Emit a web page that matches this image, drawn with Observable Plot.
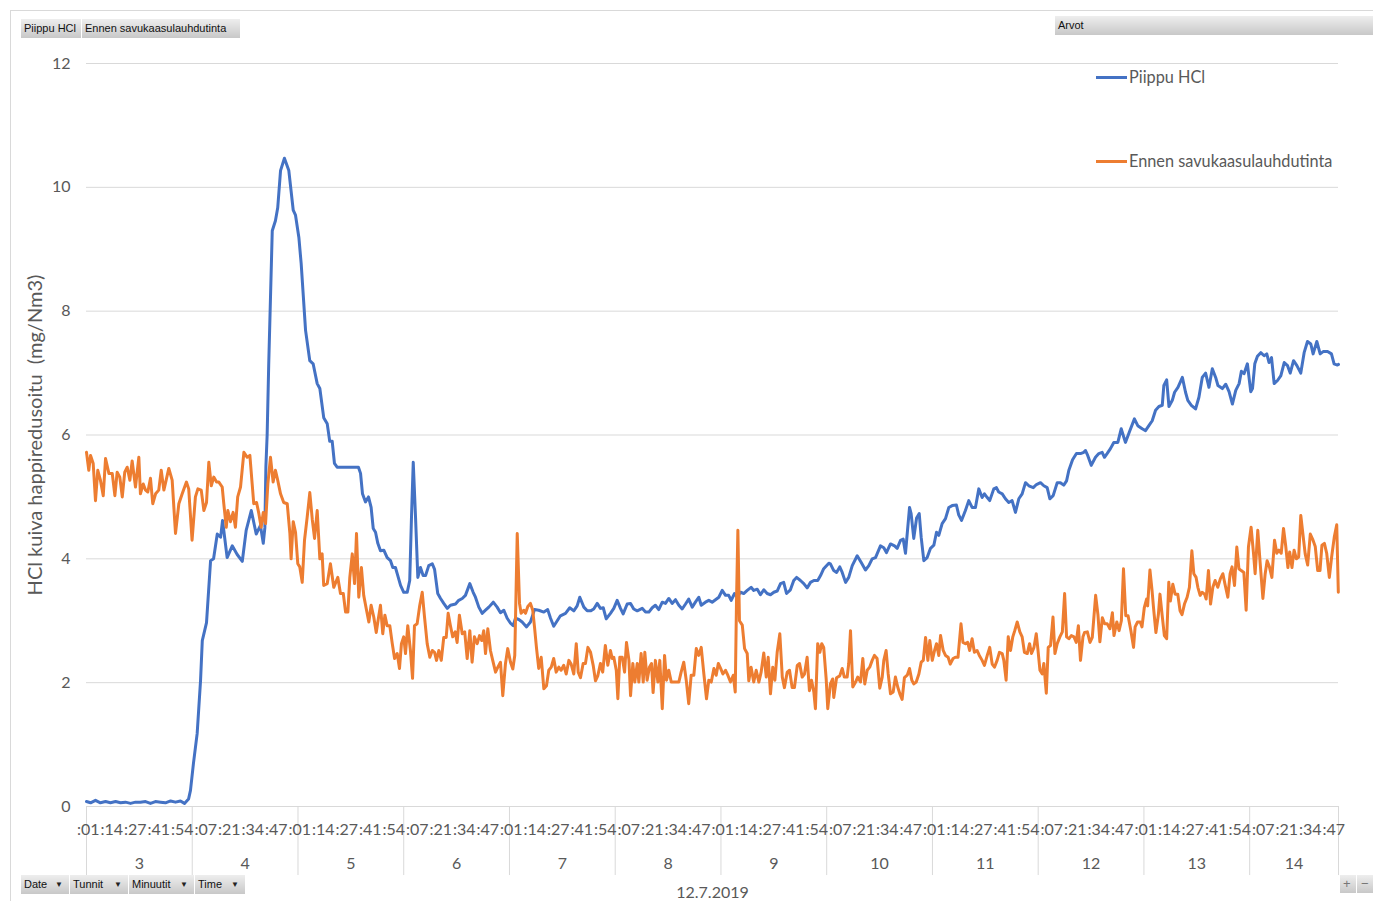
<!DOCTYPE html>
<html><head><meta charset="utf-8">
<script src="https://cdn.jsdelivr.net/npm/d3@7"></script>
<script src="https://cdn.jsdelivr.net/npm/@observablehq/plot@0.6"></script>
<style>
body{margin:0;background:#fff;}
#wrap{position:relative;width:1373px;height:901px;overflow:hidden;font-family:Lato,sans-serif;background:#fff;}
#wrap svg{position:absolute;left:0;top:0;}
.btn{position:absolute;height:19px;line-height:19px;font-size:11px;font-family:"Liberation Sans",Arial,sans-serif;color:#111;background:linear-gradient(#eeeeee,#c8c8c8);box-sizing:border-box;padding-left:3px;white-space:nowrap;}
.arr{position:absolute;top:0;font-size:8px;color:#222;}
.leg{position:absolute;height:20px;line-height:20px;font-size:16.3px;color:#595959;font-family:Lato,sans-serif;white-space:nowrap;}
.legline{position:absolute;height:3px;width:31px;}
.frame{position:absolute;background:#d9d9d9;}
</style>
</head><body>
<div id="wrap"></div>
<script>
// ---- data (minutes after 03:00, value in mg/Nm3) ----
const seriesNames = ["Piippu HCl", "Ennen savukaasulauhdutinta"];
const seriesColors = ["#4472C4", "#ED7D31"];
const yTitle = "HCl kuiva happiredusoitu  (mg/Nm3)";
const yTicks = [0, 2, 4, 6, 8, 10, 12];
const hours = [3, 4, 5, 6, 7, 8, 9, 10, 11, 12, 13, 14];
const dateLabel = "12.7.2019";
const xEnd = 710.4; // last category edge, minutes after 03:00 (≈14:50)
const minuteTicks = [
 "3:01:00","3:14:20","3:27:40","3:41:00","3:54:20","4:07:40","4:21:00","4:34:20","4:47:40",
 "5:01:00","5:14:20","5:27:40","5:41:00","5:54:20","6:07:40","6:21:00","6:34:20","6:47:40",
 "7:01:00","7:14:20","7:27:40","7:41:00","7:54:20","8:07:40","8:21:00","8:34:20","8:47:40",
 "9:01:00","9:14:20","9:27:40","9:41:00","9:54:20","10:07:40","10:21:00","10:34:20","10:47:40",
 "11:01:00","11:14:20","11:27:40","11:41:00","11:54:20","12:07:40","12:21:00","12:34:20","12:47:40",
 "13:01:00","13:14:20","13:27:40","13:41:00","13:54:20","14:07:40","14:21:00","14:34:20","14:47:40"
];

const piippu = [[0,0.08],[2.3,0.06],[5.1,0.1],[7.9,0.06],[10.8,0.08],[13.6,0.06],[16.5,0.08],[19.3,0.06],[22.1,0.07],[25.0,0.05],[27.8,0.07],[30.6,0.07],[33.5,0.08],[36.3,0.05],[39.1,0.08],[42.0,0.07],[44.8,0.06],[47.7,0.09],[50.5,0.07],[53.3,0.09],[55.6,0.05],[57.9,0.12],[59.0,0.26],[60.7,0.7],[62.8,1.18],[64.7,2.03],[65.7,2.68],[68.1,2.97],[70.4,3.97],[72.1,4.0],[74.2,4.4],[76.1,4.35],[77.2,4.62],[79.8,4.02],[82.7,4.21],[85.5,4.07],[88.4,3.96],[90.6,4.46],[93.5,4.78],[96.3,4.4],[98.7,4.54],[100.3,4.25],[101.2,4.5],[101.8,5.5],[102.5,6.0],[103.4,7.15],[105.4,9.3],[107.2,9.46],[108.5,9.67],[110.1,10.27],[112.3,10.47],[114.8,10.27],[117.3,9.63],[118.6,9.55],[120.5,9.19],[121.8,8.77],[124.3,7.69],[126.7,7.2],[128.6,7.15],[130.9,6.83],[132.4,6.75],[134.6,6.28],[136.6,6.18],[138.0,5.9],[139.4,5.9],[140.7,5.54],[142.2,5.48],[154.3,5.48],[155.5,5.38],[156.6,5.05],[158.3,4.92],[160.0,5.0],[161.5,4.83],[162.7,4.49],[164.0,4.43],[165.3,4.25],[166.8,4.13],[168.7,4.14],[170.6,4.02],[172.5,3.97],[173.8,3.86],[175.3,3.86],[176.3,3.76],[178.2,3.57],[180.0,3.46],[182.0,3.46],[183.4,3.65],[184.4,4.67],[185.4,5.56],[186.7,4.67],[188.0,3.7],[189.5,3.86],[191.0,3.73],[192.4,3.73],[194.2,3.89],[196.2,3.92],[197.5,3.83],[199.3,3.44],[200.9,3.36],[202.7,3.28],[204.7,3.2],[206.5,3.25],[209.4,3.27],[211.2,3.33],[213.2,3.36],[215.0,3.41],[217.5,3.6],[219.4,3.46],[220.7,3.38],[222.6,3.22],[224.5,3.12],[226.4,3.17],[228.3,3.22],[230.8,3.3],[233.0,3.22],[234.9,3.13],[236.8,3.17],[238.7,3.04],[240.6,2.96],[242.1,2.92],[243.4,3.04],[245.3,3.02],[247.2,2.98],[249.7,2.9],[251.9,2.98],[254.2,3.18],[256.6,3.17],[259.5,3.14],[261.7,3.18],[263.3,3.04],[265.1,2.91],[267.1,3.0],[268.9,3.08],[271.8,3.12],[274.2,3.21],[276.5,3.16],[278.4,3.24],[279.9,3.38],[282.2,3.22],[284.1,3.16],[286.0,3.16],[287.8,3.19],[289.8,3.28],[291.6,3.2],[293.2,3.21],[294.9,3.03],[297.3,3.12],[299.2,3.2],[301.1,3.33],[303.0,3.2],[304.5,3.11],[306.8,3.27],[308.7,3.28],[310.5,3.19],[312.5,3.16],[315.3,3.2],[317.2,3.14],[319.1,3.14],[321.0,3.21],[322.8,3.25],[324.7,3.18],[326.7,3.3],[328.5,3.28],[330.4,3.36],[332.3,3.28],[334.2,3.34],[336.1,3.25],[338.0,3.19],[339.9,3.27],[341.7,3.35],[343.7,3.22],[345.5,3.3],[347.4,3.38],[348.8,3.25],[351.2,3.3],[353.1,3.33],[355.0,3.3],[356.9,3.34],[358.8,3.38],[360.7,3.49],[362.6,3.41],[364.4,3.41],[365.8,3.33],[367.7,3.44],[369.2,3.38],[371.1,3.46],[372.9,3.44],[374.9,3.49],[377.1,3.54],[378.6,3.49],[380.6,3.51],[382.4,3.42],[384.3,3.5],[386.2,3.44],[388.1,3.42],[390.0,3.46],[391.9,3.48],[393.8,3.6],[395.6,3.62],[397.2,3.44],[399.4,3.5],[401.3,3.65],[402.9,3.7],[405.1,3.65],[407.0,3.6],[408.9,3.53],[410.8,3.62],[412.7,3.65],[414.9,3.65],[416.5,3.73],[418.3,3.84],[421.2,3.93],[422.1,3.92],[424.0,3.81],[425.6,3.78],[427.4,3.87],[428.8,3.78],[430.7,3.62],[432.5,3.7],[434.5,3.89],[437.3,4.05],[439.6,3.94],[442.0,3.82],[443.9,3.89],[445.8,4.0],[447.7,4.02],[450.5,4.21],[452.4,4.18],[453.9,4.1],[456.2,4.24],[458.5,4.21],[460.0,4.17],[461.9,4.3],[463.4,4.32],[464.7,4.09],[467.0,4.83],[467.9,4.73],[469.4,4.33],[471.0,4.66],[472.5,4.73],[473.6,4.35],[475.1,3.97],[477.0,4.02],[478.9,4.17],[480.8,4.22],[482.3,4.43],[483.6,4.38],[485.5,4.57],[487.4,4.65],[489.3,4.83],[491.2,4.86],[493.6,4.87],[494.9,4.71],[496.5,4.62],[498.7,4.78],[500.6,4.94],[502.5,4.83],[504.4,4.83],[506.3,5.13],[508.2,4.99],[509.5,5.05],[511.1,4.99],[512.5,4.94],[514.8,5.13],[516.3,5.15],[517.6,5.08],[519.6,5.05],[521.4,4.97],[523.3,4.91],[525.2,4.94],[527.1,4.75],[529.0,4.97],[530.9,5.05],[532.8,5.23],[534.7,5.18],[537.2,5.15],[539.0,5.2],[541.3,5.23],[543.2,5.18],[545.1,5.15],[546.6,4.97],[548.5,5.02],[550.8,5.23],[552.6,5.23],[554.5,5.19],[556.1,5.26],[557.4,5.43],[559.5,5.6],[561.7,5.7],[564.0,5.7],[565.9,5.72],[566.8,5.75],[568.1,5.67],[570.1,5.51],[572.5,5.64],[574.4,5.7],[576.3,5.72],[577.6,5.64],[579.1,5.7],[581.0,5.78],[582.9,5.88],[585.2,5.88],[587.1,6.1],[589.5,5.88],[592.0,6.07],[594.6,6.26],[596.5,6.15],[599.0,6.1],[600.9,6.07],[602.8,6.15],[604.7,6.23],[606.6,6.4],[608.5,6.46],[610.4,6.48],[611.3,6.8],[612.9,6.89],[614.2,6.46],[616.1,6.56],[617.4,6.69],[619.3,6.77],[621.8,6.93],[623.6,6.69],[624.9,6.56],[626.9,6.48],[629.3,6.42],[631.2,6.61],[633.1,6.93],[635.0,7.0],[636.9,6.77],[638.8,7.07],[640.7,6.93],[642.0,6.8],[644.5,6.75],[646.4,6.82],[648.3,6.7],[650.2,6.5],[652.1,6.72],[654.0,6.83],[655.3,7.03],[656.8,6.99],[658.7,7.15],[660.6,6.7],[661.6,6.75],[662.9,7.15],[664.4,7.27],[666.3,7.33],[668.2,7.28],[669.7,7.31],[671.0,7.17],[672.4,7.25],[673.9,6.83],[675.8,6.88],[677.7,6.96],[679.6,7.17],[681.5,7.12],[683.0,7.0],[684.9,7.2],[686.8,7.12],[689.0,7.0],[690.9,7.33],[692.8,7.51],[694.7,7.47],[696.0,7.31],[698.1,7.51],[700.0,7.31],[701.9,7.35],[704.2,7.35],[706.4,7.31],[707.9,7.15],[709.8,7.13],[710.4,7.14]];

const ennen = [[0,5.72],[1.3,5.43],[2.3,5.67],[3.8,5.54],[5.1,4.94],[6.4,5.43],[7.9,5.27],[9.5,5.02],[10.8,5.62],[12.7,5.38],[14.6,5.38],[16.1,5.02],[17.4,5.4],[18.9,5.32],[20.3,5.0],[21.7,5.4],[23.1,5.48],[24.6,5.27],[25.9,5.58],[27.8,5.16],[29.7,5.64],[30.6,5.05],[32.2,5.21],[33.5,5.11],[34.8,5.08],[36.3,5.3],[37.6,4.89],[39.2,5.05],[41.0,5.11],[42.4,5.43],[43.9,5.11],[45.2,5.27],[46.7,5.46],[48.6,5.27],[50.5,4.41],[52.4,4.89],[54.3,5.05],[56.7,5.24],[58.0,5.13],[59.9,4.3],[61.8,5.0],[63.2,5.13],[65.1,5.11],[66.6,4.78],[68.1,4.91],[69.4,5.56],[70.8,5.18],[72.2,5.32],[73.8,5.24],[75.1,5.24],[77.0,5.16],[77.9,4.89],[79.3,4.51],[80.2,4.78],[81.7,4.6],[83.2,4.75],[84.5,4.51],[85.8,5.0],[87.4,5.16],[89.3,5.72],[91.2,5.64],[92.7,5.67],[94.0,5.21],[94.9,4.89],[96.5,4.91],[97.8,4.73],[99.1,4.51],[100.3,4.75],[101.6,4.57],[102.9,5.21],[104.4,5.64],[105.9,5.24],[107.2,5.43],[108.5,5.27],[110.1,5.05],[111.9,4.91],[113.9,4.89],[115.4,4.41],[116.1,4.0],[117.3,4.6],[118.6,4.43],[119.9,3.92],[121.0,3.87],[122.4,3.62],[123.7,4.3],[125.2,4.67],[126.7,5.07],[128.1,4.64],[129.4,4.33],[130.9,4.78],[132.4,4.0],[133.7,4.08],[134.6,3.57],[136.6,3.6],[138.4,3.92],[140.3,3.54],[142.6,3.7],[144.1,3.44],[145.7,3.44],[147.0,3.14],[148.3,3.14],[149.4,3.7],[150.8,4.08],[152.1,3.6],[153.2,4.41],[154.5,3.38],[156.0,3.86],[157.3,3.41],[158.9,3.17],[160.2,2.98],[161.5,3.25],[163.0,3.06],[164.4,2.81],[165.3,2.98],[166.8,3.25],[168.1,2.79],[169.3,3.09],[170.6,2.92],[172.1,2.92],[173.5,2.63],[174.8,2.39],[176.3,2.47],[177.6,2.23],[178.7,2.63],[180.0,2.74],[181.0,2.47],[182.3,2.92],[183.8,2.52],[185.0,2.07],[186.1,2.92],[187.6,2.95],[189.1,3.25],[190.5,3.46],[191.8,3.06],[193.3,2.63],[194.8,2.41],[196.2,2.52],[197.5,2.49],[198.6,2.36],[199.9,2.52],[201.3,2.36],[202.7,2.73],[204.1,2.73],[205.2,3.12],[206.5,2.92],[207.8,2.74],[209.2,2.82],[210.3,2.65],[211.6,3.09],[213.2,2.79],[214.6,2.82],[216.0,2.39],[217.5,2.84],[218.8,2.33],[220.1,2.74],[221.7,2.63],[223.0,2.76],[224.3,2.68],[225.4,2.84],[226.4,2.47],[227.7,2.87],[229.2,2.52],[230.5,2.36],[232.1,2.17],[233.4,2.25],[234.9,2.33],[236.2,1.79],[237.7,2.3],[239.0,2.55],[240.6,2.33],[241.9,2.22],[243.0,2.44],[244.4,4.41],[245.7,3.28],[246.6,3.12],[248.1,3.17],[249.1,3.12],[250.4,3.23],[251.9,3.28],[253.2,3.17],[254.2,2.9],[255.3,2.57],[256.6,2.23],[258.0,2.41],[259.5,1.9],[261.0,1.95],[262.3,2.2],[263.7,2.25],[265.1,2.39],[266.5,2.17],[268.0,2.25],[269.3,2.2],[270.8,2.28],[272.2,2.14],[273.7,2.36],[275.0,2.3],[276.5,2.14],[277.9,2.63],[279.0,2.17],[280.3,2.08],[281.8,2.31],[283.1,2.31],[284.5,2.57],[286.0,2.49],[287.5,2.28],[288.8,2.03],[290.1,2.11],[291.6,2.31],[292.9,2.17],[294.4,2.6],[295.8,2.28],[297.3,2.52],[298.3,2.39],[299.2,2.41],[300.6,2.2],[301.5,1.74],[302.6,2.41],[304.0,2.41],[305.3,2.17],[306.4,2.65],[307.8,2.36],[308.7,1.79],[310.0,2.31],[311.1,2.01],[312.5,2.31],[313.4,2.01],[314.7,2.47],[315.9,2.01],[316.8,2.49],[318.1,2.04],[319.4,2.25],[320.6,2.31],[321.5,1.84],[322.8,2.36],[324.2,2.01],[325.3,2.36],[326.7,1.58],[328.0,2.44],[329.1,2.04],[330.4,2.2],[331.8,2.01],[333.2,2.01],[334.8,2.01],[336.1,2.01],[337.4,2.17],[338.9,2.33],[340.3,2.04],[341.7,1.66],[343.1,2.12],[344.6,2.12],[346.0,2.55],[347.4,2.44],[348.8,2.57],[350.3,2.14],[351.8,1.74],[353.1,2.04],[354.5,2.01],[356.0,2.23],[357.3,2.12],[358.5,2.31],[359.8,2.23],[361.1,2.14],[362.6,2.2],[363.9,2.12],[365.4,2.01],[367.0,2.12],[368.1,1.85],[368.8,3.28],[369.6,4.46],[370.5,3.0],[372.1,2.93],[373.4,2.55],[374.9,2.47],[375.8,2.03],[377.1,2.25],[378.6,2.01],[380.0,2.2],[381.5,2.01],[382.8,2.17],[384.3,2.48],[385.7,2.09],[386.8,2.41],[388.1,1.82],[389.4,2.25],[390.6,2.04],[391.9,2.49],[393.4,2.79],[394.8,2.09],[396.0,1.92],[397.6,2.17],[398.9,2.2],[400.4,1.92],[401.7,1.92],[403.3,2.28],[404.6,2.31],[406.1,2.09],[407.4,2.14],[408.9,2.41],[410.2,1.87],[411.4,2.04],[412.7,1.85],[413.6,1.58],[414.9,2.63],[416.1,2.49],[417.2,2.63],[418.3,2.57],[419.7,2.06],[420.6,1.58],[422.1,1.98],[423.4,2.06],[424.0,1.76],[425.6,2.08],[427.4,2.11],[428.8,2.23],[430.0,2.09],[431.6,2.09],[432.5,2.31],[433.5,2.84],[434.8,1.93],[436.4,2.01],[437.6,2.09],[439.2,2.01],[440.5,2.39],[441.6,1.98],[443.0,2.2],[444.4,2.25],[445.8,2.36],[447.1,2.44],[448.6,2.39],[450.1,1.91],[451.5,2.09],[452.4,2.36],[453.7,2.52],[454.9,2.14],[456.2,1.82],[457.7,1.85],[459.0,2.09],[460.3,1.93],[461.5,1.82],[462.8,1.73],[464.1,2.08],[465.7,2.12],[467.0,2.23],[468.3,2.04],[469.4,1.98],[470.8,2.01],[472.3,2.14],[473.6,2.33],[474.8,2.36],[476.1,2.73],[477.4,2.36],[478.5,2.68],[479.9,2.36],[481.2,2.52],[482.3,2.63],[483.6,2.44],[484.6,2.76],[486.1,2.52],[487.4,2.44],[488.9,2.41],[490.1,2.3],[491.7,2.39],[493.0,2.41],[494.5,2.41],[496.2,2.95],[497.3,2.65],[498.7,2.63],[500.0,2.65],[501.1,2.52],[502.5,2.71],[503.8,2.49],[505.3,2.52],[506.6,2.44],[508.2,2.36],[509.5,2.28],[511.1,2.44],[512.5,2.57],[513.9,2.3],[515.2,2.25],[516.7,2.36],[518.0,2.49],[519.6,2.47],[520.5,2.36],[521.8,2.04],[523.0,2.74],[524.3,2.52],[525.6,2.74],[526.7,2.84],[528.1,2.98],[529.6,2.82],[530.9,2.74],[532.2,2.49],[533.8,2.47],[535.1,2.63],[536.2,2.47],[537.6,2.57],[538.9,2.79],[539.8,2.55],[541.0,2.2],[542.3,2.14],[543.2,2.31],[544.6,1.83],[545.7,2.57],[547.0,2.6],[548.4,3.06],[549.5,2.47],[550.8,2.63],[552.3,2.74],[553.7,2.82],[555.0,3.44],[556.1,2.74],[557.4,2.71],[558.8,2.76],[560.3,2.74],[561.6,2.65],[562.8,2.92],[564.0,2.36],[565.4,2.74],[566.3,2.81],[567.9,2.82],[569.4,2.65],[570.7,2.73],[572.6,3.41],[573.9,3.1],[575.0,2.66],[576.4,3.05],[577.7,2.95],[579.2,2.95],[580.7,2.87],[582.1,3.13],[583.0,2.76],[584.6,2.98],[585.9,2.84],[587.2,3.0],[588.4,3.84],[589.7,3.08],[591.0,3.08],[592.6,2.84],[594.1,2.57],[595.0,2.9],[596.4,2.98],[597.9,2.98],[598.9,2.9],[600.2,3.21],[601.5,3.35],[602.1,3.24],[603.4,3.82],[604.6,3.49],[605.5,3.19],[606.8,2.81],[608.2,3.1],[609.1,3.43],[610.3,3.1],[611.6,2.76],[612.9,2.71],[614.1,3.62],[615.0,3.32],[616.4,3.59],[617.7,3.43],[619.2,3.43],[620.5,3.16],[621.6,3.1],[623.0,3.27],[624.5,3.38],[625.8,3.54],[627.2,4.13],[628.3,3.76],[629.6,3.7],[630.6,3.54],[631.9,3.41],[633.0,3.46],[634.4,3.43],[635.3,3.35],[636.6,3.81],[637.8,3.27],[639.1,3.54],[640.4,3.65],[641.9,3.54],[643.4,3.68],[644.8,3.76],[646.0,3.59],[647.6,3.38],[648.9,3.76],[650.0,3.87],[651.4,3.57],[652.7,4.19],[653.9,3.84],[655.2,3.81],[656.7,3.78],[658.0,3.17],[659.3,4.19],[660.8,4.51],[662.2,4.08],[663.1,3.76],[664.6,4.46],[665.9,3.95],[667.5,3.36],[668.8,3.76],[669.9,3.97],[671.2,3.87],[672.6,3.7],[674.1,4.3],[675.4,4.09],[676.6,4.14],[677.9,4.09],[679.2,4.49],[680.4,4.22],[681.7,3.86],[682.7,4.11],[684.0,3.86],[685.2,4.14],[686.5,4.0],[687.8,4.03],[689.0,4.7],[690.4,4.35],[691.5,4.08],[692.9,3.9],[694.4,4.4],[695.7,4.32],[697.2,4.2],[698.6,3.81],[699.9,3.81],[701.0,4.22],[702.4,4.25],[703.7,4.09],[705.2,3.7],[706.5,4.03],[708.0,4.35],[709.4,4.55],[710.3,3.46]];

// ---- derived tables ----
const toMin = s => { const [h, m, sec] = s.split(":").map(Number); return (h - 3) * 60 + m + sec / 60; };
const minuteLabelData = minuteTicks.map(s => ({m: toMin(s), text: ":" + s.split(":")[1]}));
const hourData = hours.map(h => ({h, start: (h - 3) * 60, end: Math.min((h - 2) * 60, xEnd)}));
const hourEdges = [...hourData.map(d => d.start), xEnd];
const grey = "#595959";
const below = -1.115; // separator depth under the axis, in value units

const chart = Plot.plot({
  width: 1373, height: 901,
  marginLeft: 86, marginRight: 35, marginTop: 63, marginBottom: 95,
  style: {fontFamily: "Lato, sans-serif", background: "transparent", overflow: "visible"},
  x: {domain: [0, xEnd], axis: null},
  y: {domain: [0, 12], axis: null},
  marks: [
    Plot.ruleY(yTicks, {y: d => d, stroke: "#d9d9d9", strokeWidth: 1}),
    Plot.ruleX(hourEdges, {x: d => d, y1: 0, y2: below, stroke: "#d9d9d9", strokeWidth: 1}),
    Plot.text(yTicks, {x: 0, y: d => d, text: d => String(d), textAnchor: "end", dx: -16, fontSize: 16, fill: grey}),
    Plot.text(minuteLabelData, {x: "m", y: 0, text: "text", dy: 23, fontSize: 16, fill: grey}),
    Plot.text(hourData, {x: d => (d.start + d.end) / 2, y: 0, text: d => String(d.h), dy: 57, fontSize: 16, fill: grey}),
    Plot.text([dateLabel], {x: xEnd / 2, y: 0, text: d => d, dy: 86, fontSize: 16, fill: grey}),
    Plot.text([yTitle], {frameAnchor: "left", dx: -51, rotate: -90, textAnchor: "middle", fontSize: 20, fill: grey}),
    Plot.line(piippu, {x: d => d[0], y: d => d[1], stroke: seriesColors[0], strokeWidth: 3, strokeLinejoin: "round", strokeLinecap: "round"}),
    Plot.line(ennen, {x: d => d[0], y: d => d[1], stroke: seriesColors[1], strokeWidth: 3, strokeLinejoin: "round", strokeLinecap: "round"})
  ]
});

const wrap = document.getElementById("wrap");
wrap.appendChild(chart);

function add(html) { wrap.insertAdjacentHTML("beforeend", html); }
// outer chart frame
add('<div class="frame" style="left:10px;top:10px;width:1363px;height:1px"></div>');
add('<div class="frame" style="left:10px;top:10px;width:1px;height:891px"></div>');
// pivot field buttons
add('<div class="btn" style="left:21px;top:19px;width:60px">' + seriesNames[0] + '</div>');
add('<div class="btn" style="left:82px;top:19px;width:158px">' + seriesNames[1] + '</div>');
add('<div class="btn" style="left:1055px;top:16px;width:318px">Arvot</div>');
const bottomBtns = [["Date", 21, 48], ["Tunnit", 70, 58], ["Minuutit", 129, 65], ["Time", 195, 50]];
bottomBtns.forEach(([t, l, w]) => add('<div class="btn" style="left:' + l + 'px;top:875px;width:' + w + 'px">' + t + '<span class="arr" style="left:' + (w - 14) + 'px">&#9660;</span></div>'));
add('<div class="btn" style="left:1340px;top:875px;width:16px;height:18px;color:#777;font-size:13px;padding-left:3px;line-height:18px">+</div>');
add('<div class="btn" style="left:1357px;top:875px;width:16px;height:18px;color:#777;font-size:13px;padding-left:4px;line-height:18px">&minus;</div>');
// legend
const legendY = [77, 161];
seriesNames.forEach((n, i) => {
  add('<div class="legline" style="left:1096px;top:' + (legendY[i] - 1.5) + 'px;background:' + seriesColors[i] + '"></div>');
  add('<div class="leg" style="left:1129px;top:' + (legendY[i] - 10) + 'px">' + n + '</div>');
});
</script>
</body></html>
